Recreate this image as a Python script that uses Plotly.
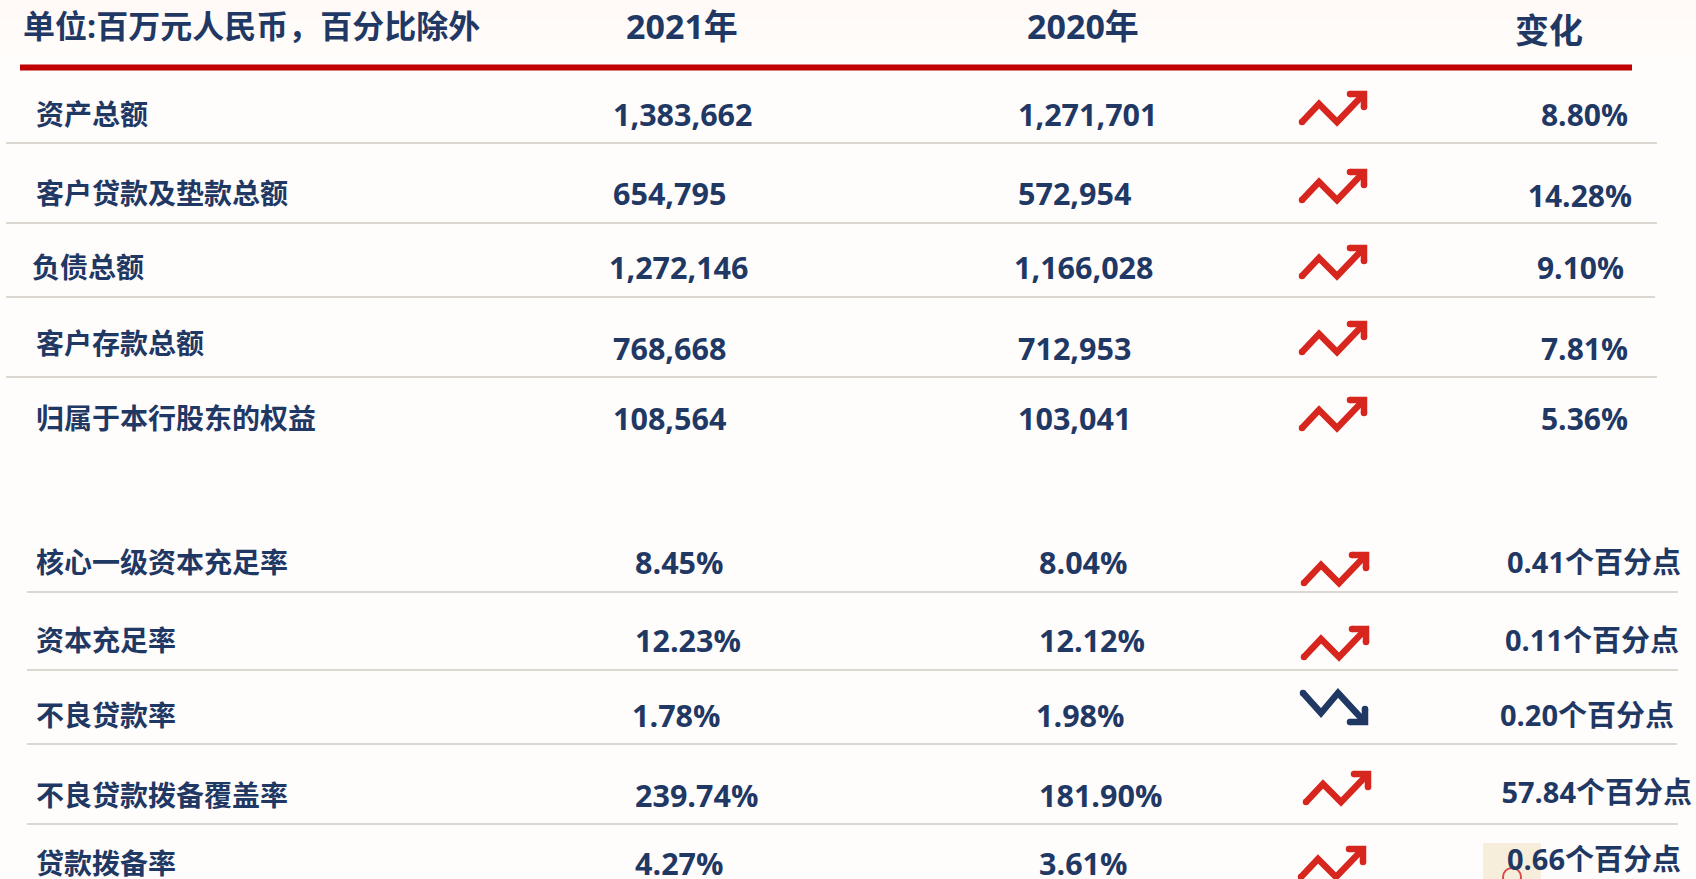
import plotly.graph_objects as go

# ---------- content ----------
header_unit = "单位:百万元人民币，百分比除外"
header_years = ["2021年", "2020年", "变化"]
row_labels = ["资产总额", "客户贷款及垫款总额", "负债总额", "客户存款总额", "归属于本行股东的权益",
              "核心一级资本充足率", "资本充足率", "不良贷款率", "不良贷款拨备覆盖率", "贷款拨备率"]
values_2021 = ["1,383,662", "654,795", "1,272,146", "768,668", "108,564",
               "8.45%", "12.23%", "1.78%", "239.74%", "4.27%"]
values_2020 = ["1,271,701", "572,954", "1,166,028", "712,953", "103,041",
               "8.04%", "12.12%", "1.98%", "181.90%", "3.61%"]
changes = ["8.80%", "14.28%", "9.10%", "7.81%", "5.36%",
           "0.41个百分点", "0.11个百分点", "0.20个百分点", "57.84个百分点", "0.66个百分点"]
trends = ["up", "up", "up", "up", "up", "up", "up", "down", "up", "up"]

# ---------- layout (page pixels) ----------
W, H = 1696, 879
label_x = [36, 36, 32, 36, 36, 36, 36, 36, 36, 36]
label_y = [118, 197, 271, 347, 422, 566, 644, 719, 799, 867]
val_y = [118, 197, 271, 352, 422, 566, 644, 719, 799, 867]
chg_y = [118, 199, 271, 352, 422, 566, 644, 719, 796, 863]
x_2021 = [613, 613, 609, 613, 613, 635, 635, 632, 635, 635]
x_2020 = [1018, 1018, 1014, 1018, 1018, 1039, 1039, 1036, 1039, 1039]
chg_right = [1628, 1632, 1624, 1628, 1628, 1681, 1679, 1674, 1692, 1681]
arrow_x = [1302, 1302, 1302, 1302, 1302, 1304, 1304, 1303, 1306, 1301]
arrow_y = [122, 200, 276, 352, 428, 583, 657, 693, 802, 877]
rule_segments = [(6, 1657, 143), (6, 1657, 223), (6, 1655, 297), (6, 1657, 377),
                 (27, 1678, 592), (27, 1678, 670), (27, 1677, 744), (27, 1678, 824)]
top_wash = [(0, 20, "#fffaf7"), (20, 40, "#fffbf9"), (40, 60, "#fffcfa")]
NAVY, RED_ICON, RED_RULE, GREY = "#1f3864", "#d7261e", "#c00000", "#ddd7d1"
FONT = "Open Sans, Noto Sans CJK SC, sans-serif"
ICON = {
    "up": ([(0, 0), (17, -18), (35, 0), (60, -26)], [(48, -28), (62, -28), (62, -15)], RED_ICON),
    "down": ([(0, 0), (18, 20), (35, 0), (60, 27)], [(47, 29), (62, 29), (62, 16)], NAVY),
}

fig = go.Figure()


def add_text(xs, ys, texts, pos, size, color=NAVY):
    fig.add_trace(go.Scatter(x=xs, y=ys, text=texts, mode="text", textposition=pos, hoverinfo="skip",
                             textfont=dict(family=FONT, size=size, color=color, weight=700)))


# arrows
for ax, ay, tr in zip(arrow_x, arrow_y, trends):
    body, head, col = ICON[tr]
    for part in (body, head):
        fig.add_trace(go.Scatter(x=[ax + p[0] for p in part], y=[ay + p[1] for p in part], mode="lines",
                                 line=dict(color=col, width=6.5), hoverinfo="skip"))
        fig.add_trace(go.Scatter(x=[ax + part[0][0], ax + part[-1][0]], y=[ay + part[0][1], ay + part[-1][1]],
                                 mode="markers", marker=dict(color=col, size=6.5), hoverinfo="skip"))

# header
add_text([23], [30], [header_unit], "middle right", 32)
add_text([682, 1083, 1549], [30, 30, 34], header_years, "middle center", 34)
# rows
add_text(label_x, label_y, row_labels, "middle right", 28)
add_text(x_2021, val_y, values_2021, "middle right", 30.5)
add_text(x_2020, val_y, values_2020, "middle right", 30.5)
add_text(chg_right[:5], chg_y[:5], changes[:5], "middle left", 30)
add_text(chg_right[5:], chg_y[5:], changes[5:], "middle left", 29)

shapes = [dict(type="rect", x0=0, x1=W, y0=a, y1=b, fillcolor=c, line_width=0, layer="below") for a, b, c in top_wash]
shapes += [
    dict(type="rect", x0=1483, x1=1541, y0=843, y1=H, fillcolor="#f6eeda", line_width=0, layer="below"),
    dict(type="circle", x0=1503, x1=1521, y0=868, y1=886, fillcolor="#f6eeda",
         line=dict(color="#d9484a", width=2), layer="below"),
    dict(type="rect", x0=20, x1=1632, y0=64.5, y1=70.5, fillcolor=RED_RULE, line_width=0, layer="below"),
]
for x0, x1, y in rule_segments:
    shapes.append(dict(type="line", x0=x0, x1=x1, y0=y, y1=y, line=dict(color=GREY, width=2), layer="below"))

fig.update_layout(
    width=W, height=H, margin=dict(l=0, r=0, t=0, b=0), showlegend=False,
    paper_bgcolor="#fffdfc", plot_bgcolor="rgba(0,0,0,0)", shapes=shapes,
    xaxis=dict(range=[0, W], visible=False, fixedrange=True),
    yaxis=dict(range=[H, 0], visible=False, fixedrange=True),
)
fig.write_html("out.html", config={"displayModeBar": False},
               post_script="document.body.style.margin='0';document.body.style.overflow='hidden';")
